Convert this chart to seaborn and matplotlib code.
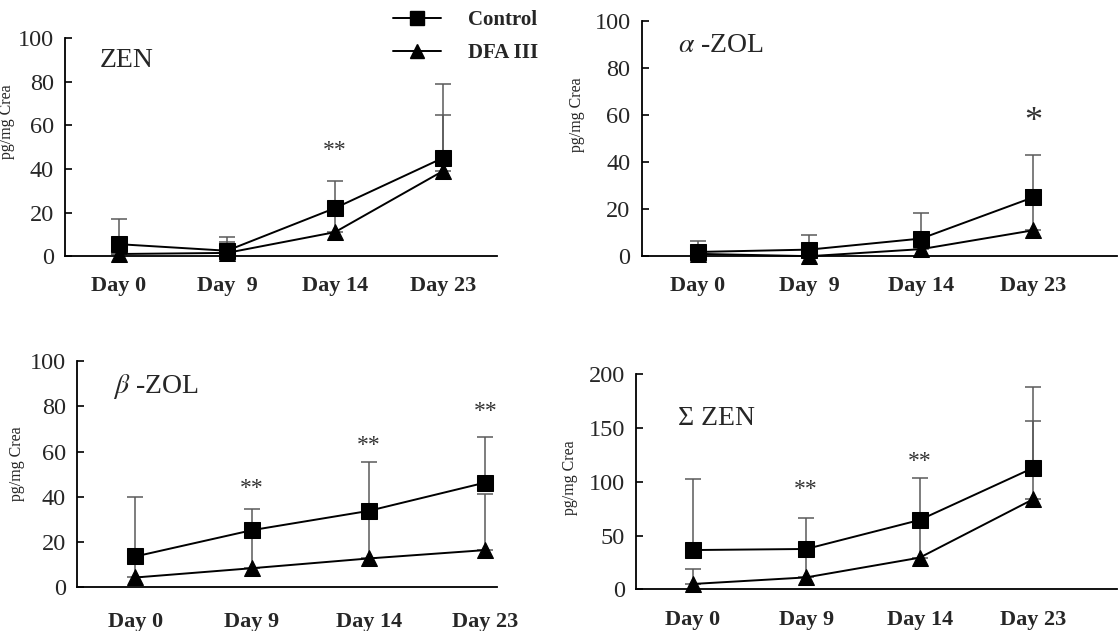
import numpy as np
import pandas as pd
import seaborn as sns
import matplotlib
import matplotlib.pyplot as plt
from matplotlib.lines import Line2D
matplotlib.use('Agg')

sns.set_theme(style="white")
plt.rcParams['font.family'] = ['Liberation Serif', 'DejaVu Serif']
plt.rcParams['mathtext.fontset'] = 'stix'

# data (mean and upper error)
days = ['Day 0', 'Day 9', 'Day 14', 'Day 23']
groups = ['Control', 'DFA III']

zen_ctrl = [5.5, 2.5, 22.0, 45.0]
zen_ctrl_sd = [11.5, 6.5, 12.5, 34.0]
zen_dfa = [1.0, 1.5, 11.0, 39.0]
zen_dfa_sd = [0.0, 5.0, 10.0, 25.5]

azol_ctrl = [1.8, 2.8, 7.5, 25.0]
azol_ctrl_sd = [4.7, 6.3, 10.7, 18.0]
azol_dfa = [1.0, 0.0, 3.0, 11.0]
azol_dfa_sd = [0.0, 0.0, 7.0, 17.0]

bzol_ctrl = [13.7, 25.3, 33.8, 46.3]
bzol_ctrl_sd = [26.3, 9.3, 21.8, 20.2]
bzol_dfa = [4.4, 8.5, 12.8, 16.5]
bzol_dfa_sd = [8.6, 15.5, 20.0, 24.7]

szen_ctrl = [36.5, 37.5, 64.4, 112.7]
szen_ctrl_sd = [65.7, 29.1, 39.0, 74.9]
szen_dfa = [5.0, 11.1, 29.4, 83.6]
szen_dfa_sd = [13.9, 19.2, 32.6, 73.1]

panels = [
    # title, ctrl, ctrl_sd, dfa, dfa_sd, day labels, ymax, ystep
    ('ZEN', zen_ctrl, zen_ctrl_sd, zen_dfa, zen_dfa_sd,
     ['Day 0', 'Day  9', 'Day 14', 'Day 23'], 100, 20),
    (r'$\alpha$ -ZOL', azol_ctrl, azol_ctrl_sd, azol_dfa, azol_dfa_sd,
     ['Day 0', 'Day  9', 'Day 14', 'Day 23'], 100, 20),
    (r'$\beta$ -ZOL', bzol_ctrl, bzol_ctrl_sd, bzol_dfa, bzol_dfa_sd,
     days, 100, 20),
    ('Σ ZEN', szen_ctrl, szen_ctrl_sd, szen_dfa, szen_dfa_sd,
     days, 200, 50),
]
# significance marks: (day index, y, text)
stars = [
    [(2, 48.5, '**')],
    [(3, 57.0, '*')],
    [(1, 43.5, '**'), (2, 62.5, '**'), (3, 77.5, '**')],
    [(1, 93, '**'), (2, 119, '**')],
]

# axes boxes in figure fractions and x limits
boxes = [
    ([0.058, 0.594, 0.3865, 0.346], 3.5),
    ([0.574, 0.594, 0.425, 0.3727], 3.75),
    ([0.069, 0.069, 0.3755, 0.359], 3.1),
    ([0.569, 0.066, 0.430, 0.3413], 3.74),
]
title_pos = [(-0.18, 89.5), (-0.18, 89.5), (-0.19, 88.5), (-0.13, 158.5)]
ylab_pos = [(-0.116, 0.615), (-0.12, 0.60), (-0.124, 0.548), (-0.12, 0.517)]
xpad = [14, 14, 18, 15]

fig = plt.figure(figsize=(11.18, 6.31), dpi=100)

for i, (title, c, csd, d, dsd, labels, ymax, ystep) in enumerate(panels):
    box, xmax = boxes[i]
    ax = fig.add_axes(box)
    df = pd.DataFrame({
        'day': days * 2,
        'value': list(c) + list(d),
        'group': ['Control'] * 4 + ['DFA III'] * 4,
    })
    # error bars (upper only)
    ax.errorbar(np.arange(4), c, yerr=[np.zeros(4), csd], fmt='none',
                ecolor='#5a5a5a', elinewidth=1.1, capsize=6, capthick=1.1,
                zorder=1)
    ax.errorbar(np.arange(4), d, yerr=[np.zeros(4), dsd], fmt='none',
                ecolor='#5a5a5a', elinewidth=1.1, capsize=6, capthick=1.1,
                zorder=1)
    sns.lineplot(data=df, x='day', y='value', style='group',
                 markers={'Control': 's', 'DFA III': '^'}, dashes=False,
                 color='black', markersize=11, markeredgecolor='black',
                 linewidth=1.4, legend=False, ax=ax, zorder=3, clip_on=False)
    ax.set_xlim(-0.5, xmax)
    ax.set_ylim(0, ymax)
    ax.set_yticks(np.arange(0, ymax + 1, ystep))
    ax.set_xticks(range(4))
    ax.set_xticklabels(labels, fontsize=16, fontweight='bold')
    ax.tick_params(axis='x', length=0, pad=xpad[i])
    ax.tick_params(axis='y', direction='in', length=5, width=1.2,
                   labelsize=17.5, pad=8, left=True, color='black')
    ax.set_xlabel('')
    ax.set_ylabel('pg/mg Crea', fontsize=11.5)
    ax.yaxis.set_label_coords(*ylab_pos[i])
    sns.despine(ax=ax, top=True, right=True)
    for s in ['left', 'bottom']:
        ax.spines[s].set_color('black')
        ax.spines[s].set_linewidth(1.3)
    ax.text(title_pos[i][0], title_pos[i][1], title, fontsize=20,
            ha='left', va='center')
    for xi, yi, t in stars[i]:
        ax.text(xi, yi, t, fontsize=17 if len(t) > 1 else 26,
                ha='center', va='center', color='#333333')

# legend at the top
handles = [
    Line2D([], [], color='black', marker='s', markersize=10, linewidth=1.4),
    Line2D([], [], color='black', marker='^', markersize=10, linewidth=1.4),
]
fig.legend(handles, groups, loc='upper left', bbox_to_anchor=(0.3426, 1.0),
           frameon=False, borderpad=0, handlelength=2.3, handletextpad=1.3,
           labelspacing=0.6, prop={'size': 15, 'weight': 'bold'})

fig.savefig('out.png', dpi=100)
